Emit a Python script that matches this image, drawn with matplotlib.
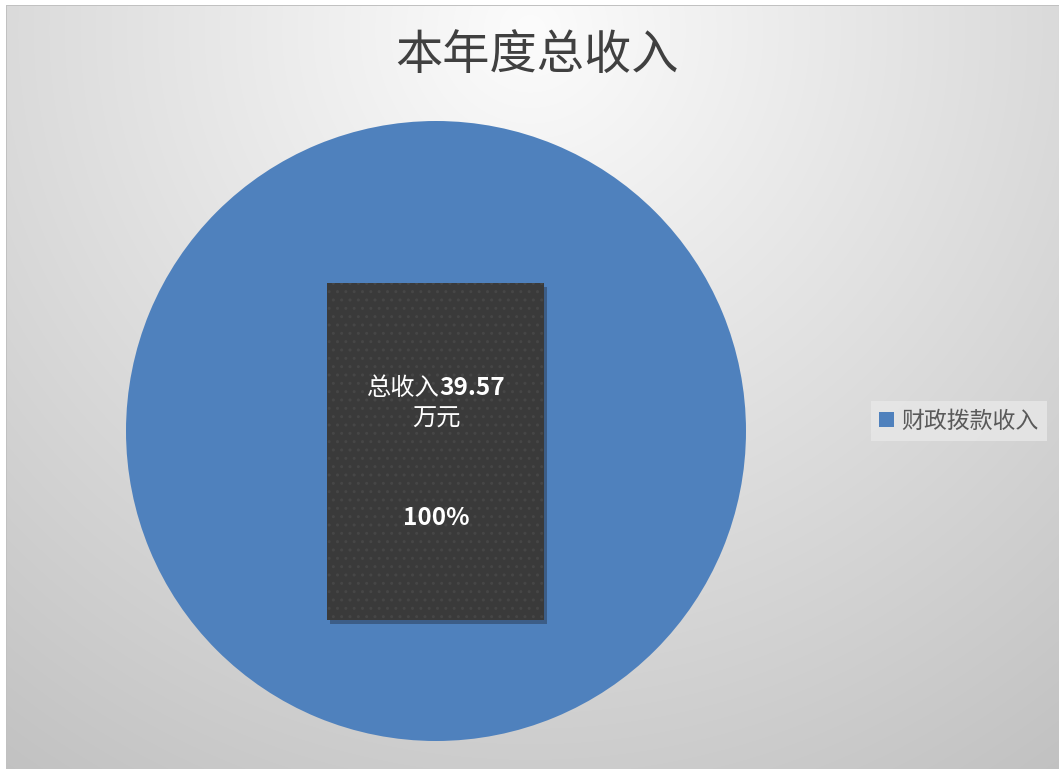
import numpy as np
import matplotlib
matplotlib.use('Agg')
import matplotlib.pyplot as plt
from matplotlib.patches import Rectangle
from matplotlib.offsetbox import TextArea, HPacker, VPacker, AnnotationBbox

plt.rcParams['font.family'] = ['Noto Sans CJK SC', 'DejaVu Sans']

# 数据
title = '本年度总收入'
categories = ['财政拨款收入']
values = [39.57]
unit = '万元'
colors = ['#4F81BD']

W, H = 1059, 769
fig = plt.figure(figsize=(W / 100, H / 100), dpi=100)

# 背景: 径向渐变 + 边框
bg = fig.add_axes([0, 0, 1, 1])
yy, xx = np.mgrid[0:H, 0:W]
d = np.hypot(xx - 530, yy - 30) / 900
shade = np.clip(252 - 58 * d, 0, 255) / 255
img = np.dstack([shade] * 3)
img[:5, :] = 1
img[:, :6] = 1
img[5, 6:] = 0.76
img[5:, 6] = 0.76
bg.imshow(img, extent=[0, W, H, 0], aspect='auto', interpolation='bilinear')
bg.set_xlim(0, W)
bg.set_ylim(H, 0)
bg.axis('off')

fig.text(537 / W, 1 - 56 / H, title, ha='center', va='center',
         fontsize=34, color='#404040')

# 饼图
ax = fig.add_axes([126 / W, 28 / H, 620 / W, 620 / H])
wedges, _ = ax.pie(values, colors=colors, startangle=90, counterclock=False)
ax.set_xlim(-1, 1)
ax.set_ylim(-1, 1)

total = sum(values)
pct = values[0] / total * 100

# 数据标签框
ax.add_patch(Rectangle((-0.343, -0.622), 0.70, 1.087, facecolor='#2a3b52',
                       alpha=0.5, linewidth=0, zorder=3))
ax.add_patch(Rectangle((-0.352, -0.61), 0.70, 1.087, facecolor='#3a3a3a',
                       edgecolor='#464646', hatch='..', linewidth=0, zorder=4))

tp = dict(color='white', fontsize=17.5)
row1 = HPacker(children=[TextArea('总收入', textprops=tp),
                         TextArea(f'{values[0]:.2f}', textprops=dict(tp, fontweight='bold'))],
               pad=0, sep=0, align='baseline')
row2 = TextArea(unit, textprops=tp)
block = VPacker(children=[row1, row2], align='center', pad=0, sep=3)
ab = AnnotationBbox(block, (0.0, 0.09), frameon=False, box_alignment=(0.5, 0.5), zorder=5)
ax.add_artist(ab)
ax.text(0.0, -0.28, f'{pct:.0f}%', ha='center', va='center', color='white',
        fontsize=17.5, fontweight='bold', zorder=5)

leg = fig.legend(wedges, categories, loc='center left',
                 bbox_to_anchor=(860 / W, 1 - 421 / H), fontsize=16.5,
                 frameon=True, facecolor='#e8e8e8', edgecolor='none', fancybox=False,
                 handlelength=0.65, handleheight=0.65, handletextpad=0.3,
                 borderpad=0.35)
for t in leg.get_texts():
    t.set_color('#595959')

fig.savefig('out.png', dpi=100)
